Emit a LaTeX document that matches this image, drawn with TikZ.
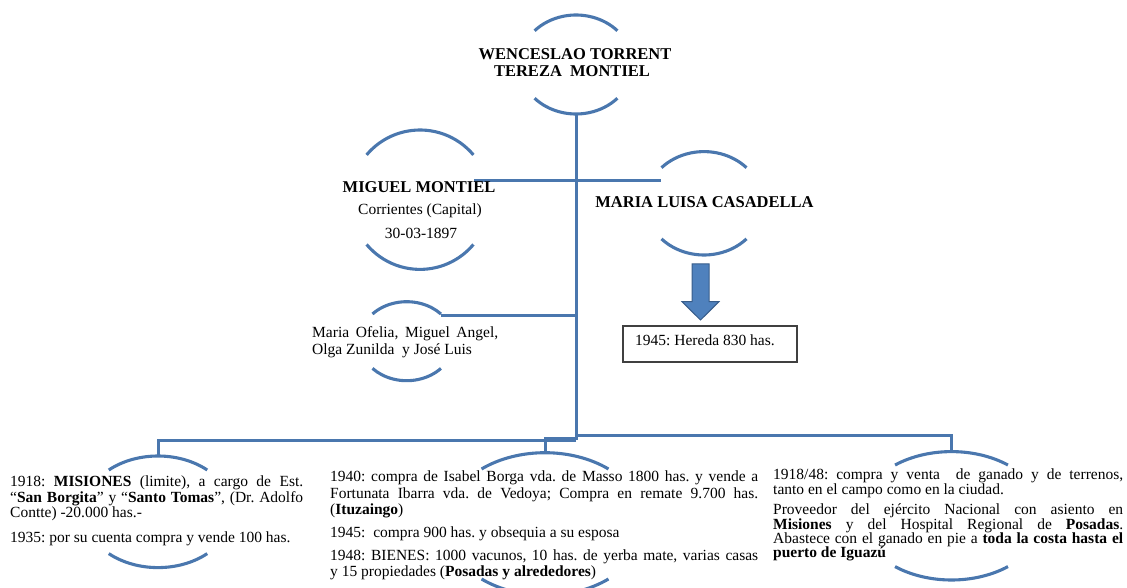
\documentclass[tikz,border=0pt]{standalone}
\usepackage{fontspec}
\setmainfont{Liberation Serif}
\frenchspacing
\definecolor{ln}{HTML}{4A77AE}
\definecolor{arrfill}{HTML}{4F81BD}
\definecolor{arrdraw}{HTML}{385D8A}
\definecolor{boxdraw}{HTML}{404040}
\newcommand\jline[2]{\makebox[#1][s]{#2}}
\newcommand\ringarcs[4]{%
  \draw[ringline] (#1) ++(#4:#2pt and #3pt) arc[start angle=#4, end angle=180-#4, x radius=#2pt, y radius=#3pt];
  \draw[ringline] (#1) ++(180+#4:#2pt and #3pt) arc[start angle=180+#4, end angle=360-#4, x radius=#2pt, y radius=#3pt];}
\begin{document}
\begin{tikzpicture}[x=1pt,y=1pt,
  ringline/.style={draw=ln, line width=3.1pt},
  conn/.style={draw=ln, line width=3pt},
  body/.style={font=\fontsize{15.5}{16}\selectfont, inner sep=0pt},
  title/.style={font=\fontsize{16.5}{17}\selectfont\bfseries, inner sep=0pt},
  hbox/.style={draw=boxdraw, line width=1.1pt, inner sep=0pt},
  blockarrow/.style={fill=arrfill, draw=arrdraw, line width=1pt, line join=miter}]
\useasboundingbox (0,0) rectangle (1127,587);
% ring centres
\coordinate (T) at (576,522.5);
\coordinate (M) at (420,387.3);
\coordinate (ML) at (704,383.7);
\coordinate (C) at (406.7,245.8);
\coordinate (BL) at (158,75.2);
\coordinate (BM) at (545,63);
\coordinate (BR) at (951.5,71.2);
\ringarcs{T}{56.6}{49.5}{43}
\ringarcs{M}{69.7}{69.7}{40}
\ringarcs{ML}{58.6}{51.7}{43.5}
\ringarcs{C}{47.2}{39.5}{43.5}
\ringarcs{BL}{74.3}{55.8}{48.5}
\ringarcs{BM}{99.8}{71.3}{50.5}
\ringarcs{BR}{92.3}{64.2}{52.3}
% connector points
\coordinate (Tb) at (576,473);
\coordinate (J) at (576,147);
\coordinate (Jr) at (576,152);
\coordinate (Jm) at (576,149);
\coordinate (mR) at (474,406.7);
\coordinate (mlL) at (661,406.7);
\coordinate (cR) at (441,271);
\coordinate (cT) at (576,271);
\coordinate (BLt) at (158,131);
\coordinate (BMt) at (545,134.3);
\coordinate (BRt) at (951.5,135.4);
% connectors
\draw[conn] (Tb) -- (J);
\draw[conn] (mR) -- (mlL);
\draw[conn] (cR) -- (cT);
\draw[conn] (J) -| (BLt);
\draw[conn] (Jm) -| (BMt);
\draw[conn] (Jr) -| (BRt);
% block arrow
\draw[blockarrow] (692,323) -- (709,323) -- (709,285.3) -- (719,285.3) -- (700.5,267) -- (682,285.3) -- (692,285.3) -- cycle;
% box
\node[hbox, minimum width=174pt, minimum height=36pt] (hb) at (710,243) {};
\node[body, anchor=base west] (hbt) at (635,241.7) {1945: Hereda 830 has.};
% titles
\node[title, anchor=base] (tA) at (575,527.2) {WENCESLAO TORRENT};
\node[title, anchor=base] (tB) at (572,510.5) {TEREZA\ \ MONTIEL};
\node[title, anchor=base] (mA) at (419,394.8) {MIGUEL MONTIEL};
\node[body, anchor=base] (mB) at (420,372) {Corrientes (Capital)};
\node[body, anchor=base] (mC) at (421,348.2) {30-03-1897};
\node[title, anchor=base] (mlA) at (704.5,379.2) {MARIA LUISA CASADELLA};
% children
\node[body, anchor=base west] (c1) at (312,249.3) {\jline{186pt}{Maria Ofelia, Miguel Angel,}};
\node[body, anchor=base west] (c2) at (312,232.7) {Olga Zunilda\ \ y José Luis};
% left block
\node[body, anchor=base west] (l1) at (10,100.3) {\jline{293pt}{1918: \textbf{MISIONES} (limite), a cargo de Est.}};
\node[body, anchor=base west] (l2) at (10,84.8) {\jline{293pt}{“\textbf{San Borgita}” y “\textbf{Santo Tomas}”, (Dr. Adolfo}};
\node[body, anchor=base west] (l3) at (10,69.3) {Contte) -20.000 has.-};
\node[body, anchor=base west] (l4) at (10,44.7) {1935: por su cuenta compra y vende 100 has.};
% middle block
\node[body, anchor=base west] (m1) at (330,105.3) {\jline{428pt}{1940: compra de Isabel Borga vda. de Masso 1800 has. y vende a}};
\node[body, anchor=base west] (m2) at (330,89) {\jline{428pt}{Fortunata Ibarra vda. de Vedoya; Compra en remate 9.700 has.}};
\node[body, anchor=base west] (m3) at (330,73) {(\textbf{Ituzaingo})};
\node[body, anchor=base west] (m4) at (330,49.3) {1945:\ \ compra 900 has. y obsequia a su esposa};
\node[body, anchor=base west] (m5) at (330,27) {\jline{428pt}{1948: BIENES: 1000 vacunos, 10 has. de yerba mate, varias casas}};
\node[body, anchor=base west] (m6) at (330,10.3) {y 15 propiedades (\textbf{Posadas y alrededores})};
% right block
\node[body, anchor=base west] (r1) at (773,107.7) {\jline{350pt}{1918/48: compra y venta\ \ de ganado y de terrenos,}};
\node[body, anchor=base west] (r2) at (773,92.7) {tanto en el campo como en la ciudad.};
\node[body, anchor=base west] (r3) at (773,72.7) {\jline{350pt}{Proveedor del ejército Nacional con asiento en}};
\node[body, anchor=base west] (r4) at (773,57.7) {\jline{350pt}{\textbf{Misiones} y del Hospital Regional de \textbf{Posadas}.}};
\node[body, anchor=base west] (r5) at (773,43.7) {\jline{350pt}{Abastece con el ganado en pie a \textbf{toda la costa hasta el}}};
\node[body, anchor=base west] (r6) at (773,29.3) {\textbf{puerto de Iguazú}};
\end{tikzpicture}
\end{document}
